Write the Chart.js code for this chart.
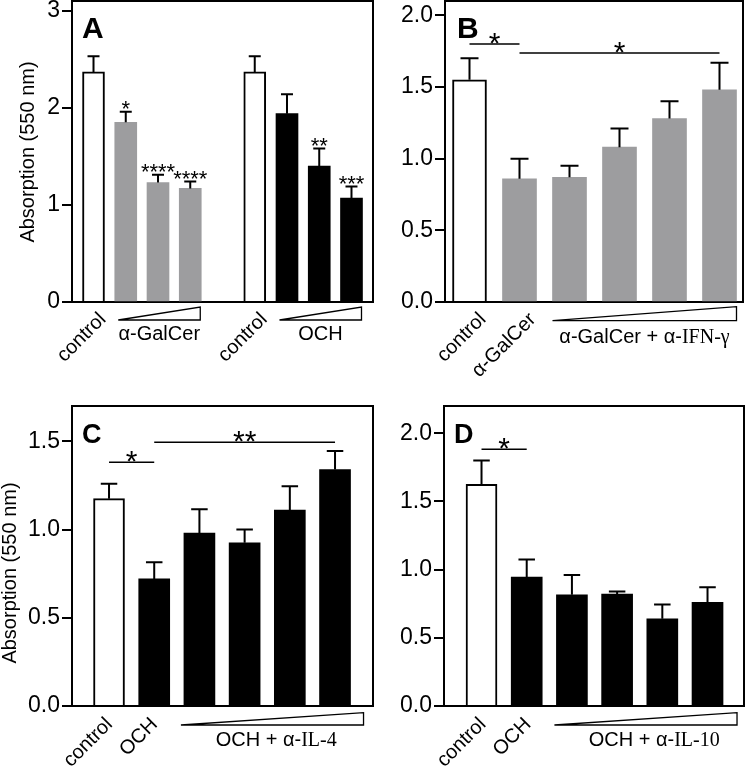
<!DOCTYPE html>
<html>
<head>
<meta charset="utf-8">
<title>Absorption (550 nm) panels A-D</title>
<script src="https://cdn.jsdelivr.net/npm/chart.js@4.4.1/dist/chart.umd.min.js"></script>
<style>
  body { margin: 0; background: #fff; }
  #fig { position: relative; width: 746px; height: 766px; }
  #fig canvas { position: absolute; }
</style>
</head>
<body>
<div id="fig">
  <canvas id="panelA" width="375" height="383" style="left:0;top:0;width:375px;height:383px"></canvas>
  <canvas id="panelB" width="373" height="383" style="left:373px;top:0;width:373px;height:383px"></canvas>
  <canvas id="panelC" width="375" height="383" style="left:0;top:383px;width:375px;height:383px"></canvas>
  <canvas id="panelD" width="373" height="383" style="left:373px;top:383px;width:373px;height:383px"></canvas>
</div>

<script>
// ---- data ----
// A: alpha-GalCer vs OCH dose series, empty slot between the two groups
const aCats  = ["control", "", "", "", "", "control", "", "", ""];
const aKind  = ["open", "gray", "gray", "gray", null, "open", "solid", "solid", "solid"];
const aMean  = [2.37, 1.85, 1.23, 1.17, null, 2.37, 1.94, 1.40, 1.07];
const aErr   = [0.16, 0.11, 0.08, 0.07, null, 0.16, 0.20, 0.18, 0.12];
const aStars = ["", "*", "****", "****", "", "", "", "**", "***"];
const aTicks = [0, 1, 2, 3];
const aGroups = [
  { from: 1, to: 3, text: [["α-GalCer", "sans"]] },
  { from: 6, to: 8, text: [["OCH", "sans"]] }
];
const aSig = [];

// B: alpha-GalCer + anti-IFN-gamma
const bCats  = ["control", "α-GalCer", "", "", "", ""];
const bKind  = ["open", "gray", "gray", "gray", "gray", "gray"];
const bMean  = [1.55, 0.86, 0.87, 1.08, 1.28, 1.48];
const bErr   = [0.15, 0.14, 0.08, 0.13, 0.12, 0.19];
const bTicks = [0, 0.5, 1.0, 1.5, 2.0];
const bGroups = [{ from: 2, to: 5, text: [["α-GalCer + α-", "sans"], ["IFN-γ", "serif"]] }];
const bSig = [
  { from: 0, to: 1, level: 1.80, mark: "*" },
  { from: 1, to: 5, level: 1.737, mark: "*" }
];

// C: OCH + anti-IL-4
const cCats  = ["control", "OCH", "", "", "", ""];
const cKind  = ["open", "solid", "solid", "solid", "solid", "solid"];
const cMean  = [1.175, 0.72, 0.98, 0.925, 1.11, 1.34];
const cErr   = [0.085, 0.095, 0.135, 0.075, 0.135, 0.105];
const cTicks = [0, 0.5, 1.0, 1.5];
const cGroups = [{ from: 2, to: 5, text: [["OCH + α-", "sans"], ["IL-4", "serif"]] }];
const cSig = [
  { from: 0, to: 1, level: 1.381, mark: "*" },
  { from: 1, to: 5, level: 1.494, mark: "**" }
];

// D: OCH + anti-IL-10
const dCats  = ["control", "OCH", "", "", "", ""];
const dKind  = ["open", "solid", "solid", "solid", "solid", "solid"];
const dMean  = [1.625, 0.945, 0.815, 0.82, 0.64, 0.76];
const dErr   = [0.175, 0.13, 0.145, 0.02, 0.105, 0.11];
const dTicks = [0, 0.5, 1.0, 1.5, 2.0];
const dGroups = [{ from: 2, to: 5, text: [["OCH + α-", "sans"], ["IL-10", "serif"]] }];
const dSig = [{ from: 0, to: 1, level: 1.883, mark: "*" }];

// ---- styles ----
const FONTS = {
  sans: "'Liberation Sans', Arial, sans-serif",
  serif: "'Liberation Serif', 'Times New Roman', serif"
};
const FILL = { open: "#ffffff", gray: "#9d9d9f", solid: "#000000" };
const EDGE = { open: 2, gray: 0, solid: 0 };
const YTITLE = "Absorption (550 nm)";

// draws frame, error bars, brackets, labels and group triangles
const decor = {
  id: "decor",
  afterDraw(chart, args, o) {
    const { ctx, chartArea: a, scales: { x, y } } = chart;
    const ds = chart.data.datasets[0];
    const meta = chart.getDatasetMeta(0);
    ctx.save();
    ctx.strokeStyle = "#000";
    ctx.fillStyle = "#000";

    // top + right of the box
    ctx.lineWidth = 2;
    ctx.beginPath();
    ctx.moveTo(a.left, a.top);
    ctx.lineTo(a.right, a.top);
    ctx.lineTo(a.right, a.bottom);
    ctx.stroke();

    // error bars (upper whisker only) and stars over bars
    const cap = o.bar / 4 + 0.5;
    meta.data.forEach((el, i) => {
      const p = ds.data[i];
      const top = y.getPixelForValue(p.y + p.err);
      ctx.lineWidth = 2;
      ctx.beginPath();
      ctx.moveTo(el.x, el.y);
      ctx.lineTo(el.x, top);
      ctx.moveTo(el.x - cap, top);
      ctx.lineTo(el.x + cap, top);
      ctx.stroke();
      if (p.star) {
        ctx.font = "22px " + FONTS.sans;
        ctx.textAlign = "center";
        ctx.textBaseline = "alphabetic";
        ctx.fillText(p.star, el.x, top + 4.5);
      }
    });

    // significance brackets
    o.sig.forEach(s => {
      const x1 = x.getPixelForValue(s.from + 1);
      const x2 = x.getPixelForValue(s.to + 1);
      const yy = y.getPixelForValue(s.level);
      ctx.lineWidth = 1.5;
      ctx.beginPath();
      ctx.moveTo(x1, yy);
      ctx.lineTo(x2, yy);
      ctx.stroke();
      ctx.font = "30px " + FONTS.sans;
      ctx.textAlign = "center";
      ctx.textBaseline = "alphabetic";
      ctx.fillText(s.mark, (x1 + x2) / 2, yy + 9);
    });

    // panel letter
    ctx.font = "bold " + o.letterSize + "px " + FONTS.sans;
    ctx.textAlign = "left";
    ctx.textBaseline = "alphabetic";
    ctx.fillText(o.letter, a.left + o.letterDx, a.top + 36.5);

    // y title
    if (o.title) {
      ctx.save();
      ctx.translate(o.title.x, o.title.y);
      ctx.rotate(-Math.PI / 2);
      ctx.font = "20px " + FONTS.sans;
      ctx.textAlign = "center";
      ctx.textBaseline = "middle";
      ctx.fillText(YTITLE, 0, 0);
      ctx.restore();
    }

    // rotated category labels
    const fs = 20, k = 0.73 * fs * Math.SQRT1_2;
    o.cats.forEach((c, i) => {
      if (!c) return;
      const cx = x.getPixelForValue(i + 1);
      ctx.save();
      ctx.translate(cx + o.labDx + k, a.bottom + o.labDy + k);
      ctx.rotate(-Math.PI / 4);
      ctx.font = fs + "px " + FONTS.sans;
      ctx.textAlign = "right";
      ctx.textBaseline = "alphabetic";
      ctx.fillText(c, 0, 0);
      ctx.restore();
    });

    // dose triangles + group captions
    o.groups.forEach(g => {
      const l = x.getPixelForValue(g.from + 1) - o.bar / 2 + o.triPad[0];
      const r = x.getPixelForValue(g.to + 1) + o.bar / 2 + o.triPad[1];
      const yb = a.bottom + o.tri[1], yt = a.bottom + o.tri[0];
      ctx.lineWidth = 1.3;
      ctx.fillStyle = "#fff";
      ctx.beginPath();
      ctx.moveTo(l, yb);
      ctx.lineTo(r, yb);
      ctx.lineTo(r, yt);
      ctx.closePath();
      ctx.fill();
      ctx.stroke();
      ctx.fillStyle = "#000";
      let w = 0;
      g.text.forEach(([t, f]) => { ctx.font = fs + "px " + FONTS[f]; w += ctx.measureText(t).width; });
      let tx = (l + r) / 2 + o.textDx - w / 2;
      ctx.textAlign = "left";
      g.text.forEach(([t, f]) => {
        ctx.font = fs + "px " + FONTS[f];
        ctx.fillText(t, tx, a.bottom + o.textDy);
        tx += ctx.measureText(t).width;
      });
    });
    ctx.restore();
  }
};

function panel(id, cats, kind, mean, err, stars, ticks, groups, sig, L) {
  const pts = [];
  mean.forEach((m, i) => {
    if (m == null) return;
    pts.push({ x: i + 1, y: m, err: err[i], kind: kind[i], star: stars ? stars[i] : "" });
  });
  return new Chart(document.getElementById(id), {
    type: "bar",
    data: {
      datasets: [{
        data: pts,
        backgroundColor: pts.map(p => FILL[p.kind]),
        borderColor: "#000",
        borderWidth: pts.map(p => EDGE[p.kind]),
        barThickness: L.bar
      }]
    },
    options: {
      responsive: false,
      animation: false,
      layout: { padding: { top: L.top, right: L.right, left: 0, bottom: 0 } },
      plugins: {
        legend: { display: false },
        tooltip: { enabled: false },
        decor: Object.assign({ cats, groups, sig }, L)
      },
      scales: {
        x: {
          type: "linear", min: L.xmin, max: L.xmax, offset: false, z: 1,
          grid: { display: false, offset: false },
          ticks: { display: false },
          border: { color: "#000", width: 2 },
          afterFit: s => { s.height = L.xh; s.paddingLeft = 0; s.paddingRight = 0; }
        },
        y: {
          min: 0, max: L.ymax, z: 1,
          afterBuildTicks: s => { s.ticks = ticks.map(v => ({ value: v })); },
          ticks: {
            color: "#000", padding: 2,
            font: { family: FONTS.sans, size: 23 },
            callback: v => Number(v).toFixed(L.dec)
          },
          grid: { drawOnChartArea: false, drawTicks: true, tickLength: 10, color: "#000", lineWidth: 2 },
          border: { color: "#000", width: 2 },
          afterFit: s => { s.width = L.yw; s.paddingTop = 0; s.paddingBottom = 0; }
        }
      }
    },
    plugins: [decor]
  });
}

panel("panelA", aCats, aKind, aMean, aErr, aStars, aTicks, aGroups, aSig, {
  top: 1, right: 2, yw: 72, xh: 81, xmin: 0.333, xmax: 9.667, ymax: 3.1, dec: 0, bar: 22,
  letter: "A", letterSize: 30, letterDx: 10, title: { x: 28, y: 152 },
  labDx: 3, labDy: 8, tri: [5, 18], triPad: [3.5, -1], textDx: 0, textDy: 38
});
panel("panelB", bCats, bKind, bMean, bErr, null, bTicks, bGroups, bSig, {
  top: 1, right: 3, yw: 72, xh: 81, xmin: 0.51, xmax: 6.47, ymax: 2.1, dec: 1, bar: 34,
  letter: "B", letterSize: 30, letterDx: 12, title: null,
  labDx: 7, labDy: 8, tri: [4.7, 18.7], triPad: [0, 0], textDx: 0, textDy: 41
});
panel("panelC", cCats, cKind, cMean, cErr, null, cTicks, cGroups, cSig, {
  top: 23, right: 2, yw: 72, xh: 60, xmin: 0.181, xmax: 6.84, ymax: 1.7, dec: 1, bar: 31,
  letter: "C", letterSize: 27, letterDx: 10, title: { x: 10, y: 190 },
  labDx: -6, labDy: 9, tri: [6.7, 19], triPad: [-3, 13], textDx: 4, textDy: 40
});
panel("panelD", dCats, dKind, dMean, dErr, null, dTicks, dGroups, dSig, {
  top: 23, right: 2, yw: 71, xh: 60, xmin: 0.17, xmax: 6.807, ymax: 2.2, dec: 1, bar: 31,
  letter: "D", letterSize: 27, letterDx: 10, title: null,
  labDx: -5, labDy: 9, tri: [6.7, 19], triPad: [-2, 14], textDx: 8.5, textDy: 40
});
</script>
</body>
</html>
